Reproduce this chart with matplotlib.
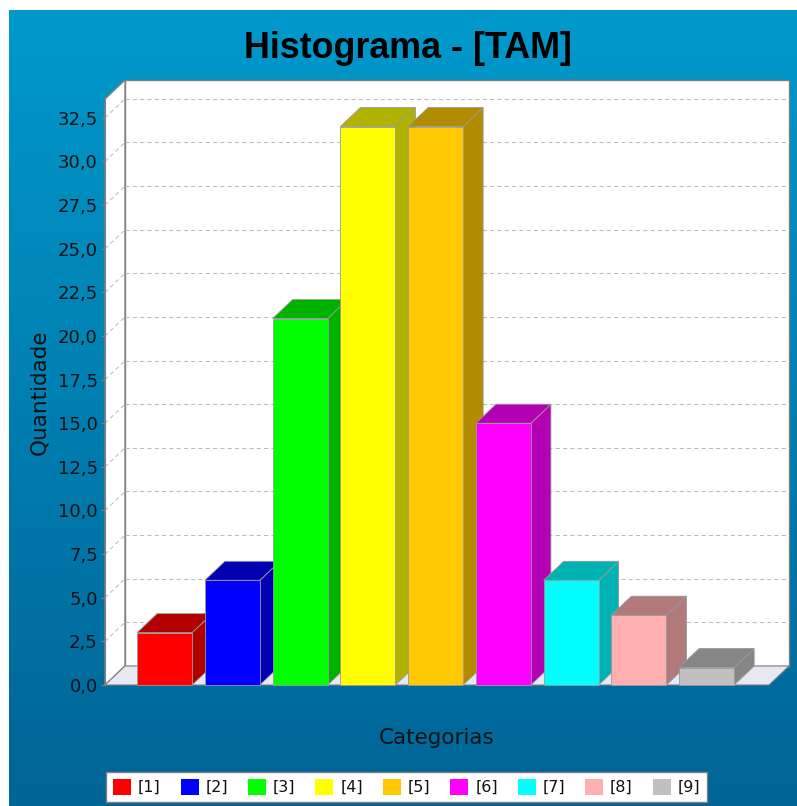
import numpy as np
import matplotlib
matplotlib.use("Agg")
import matplotlib.pyplot as plt
from matplotlib.patches import Polygon, Patch
from matplotlib.ticker import FuncFormatter, MultipleLocator

# dados do histograma
categorias = ["[1]", "[2]", "[3]", "[4]", "[5]", "[6]", "[7]", "[8]", "[9]"]
quantidade = [3, 6, 21, 32, 32, 15, 6, 4, 1]
cores = ["#FF0000", "#0000FF", "#00FF00", "#FFFF00", "#FFC800",
         "#FF00FF", "#00FFFF", "#FFAFAF", "#C0C0C0"]
cores_escuras = ["#B20000", "#0000B2", "#00B200", "#B2B200", "#B28C00",
                 "#B200B2", "#00B2B2", "#B27A7A", "#868686"]

W, H = 797, 806
fig = plt.figure(figsize=(W / 100, H / 100), dpi=100)

# fundo em degrade
bg = fig.add_axes([9 / W, 0, 1 - 9 / W, 1 - 10 / H], zorder=-1)
t = np.linspace(0, 1, 256)[:, None, None]
topo = np.array([0, 153, 204]) / 255
base = np.array([0, 100, 150]) / 255
bg.imshow(topo + (base - topo) * t, aspect="auto", extent=[0, 1, 0, 1])
bg.axis("off")

# eixo principal (plano da frente)
ax = fig.add_axes([105 / W, (H - 685) / H, 664 / W, 586 / H])
ax.patch.set_visible(False)
xmin, xmax = -0.88, 8.92
ymax = 33.58
ax.set_xlim(xmin, xmax)
ax.set_ylim(0, ymax)

# profundidade 3D em unidades de dados
ddx = 20 / (664 / (xmax - xmin))
ddy = 19 / (586 / ymax)

cinza = "#808080"
for s in ["top", "right", "bottom"]:
    ax.spines[s].set_visible(False)
ax.spines["left"].set_color(cinza)
ax.spines["left"].set_linewidth(0.8)

ax.yaxis.set_major_locator(MultipleLocator(2.5))
ax.yaxis.set_major_formatter(FuncFormatter(lambda v, p: f"{v:.1f}".replace(".", ",")))
ax.tick_params(axis="y", direction="out", length=3, width=0.8, color=cinza,
               pad=2.2, labelsize=13, labelcolor="#111111")
ax.set_xticks([])

ax.set_ylabel("Quantidade", fontsize=15.5, labelpad=6, color="#111111")
ax.set_xlabel("Categorias", fontsize=15.5, labelpad=31, color="#111111")

# paredes
parede_fundo = Polygon([(xmin + ddx, ddy), (xmax + ddx, ddy), (xmax + ddx, ymax + ddy),
                        (xmin + ddx, ymax + ddy)], closed=True, facecolor="white",
                       edgecolor=cinza, lw=1.0, clip_on=False, zorder=0.5)
parede_esq = Polygon([(xmin, 0), (xmin + ddx, ddy), (xmin + ddx, ymax + ddy), (xmin, ymax)],
                     closed=True, facecolor="white", edgecolor=cinza, lw=1.0,
                     clip_on=False, zorder=0.6)
piso = Polygon([(xmin, 0), (xmin + ddx, ddy), (xmax + ddx, ddy), (xmax, 0)],
               closed=True, facecolor="#E8E8F5", edgecolor=cinza, lw=0.8,
               clip_on=False, zorder=0.7)
for p in [parede_fundo, parede_esq, piso]:
    ax.add_patch(p)

# linhas de grade
for v in np.arange(2.5, ymax, 2.5):
    ax.plot([xmin + ddx, xmax + ddx], [v + ddy, v + ddy], color="#BBBBBB", lw=0.75,
            dashes=(4, 3), clip_on=False, zorder=0.8)
    ax.plot([xmin, xmin + ddx], [v, v + ddy], color="#BBBBBB", lw=0.75,
            dashes=(4, 3), clip_on=False, zorder=0.8)

# barras 3D
x = np.arange(len(quantidade))
larg = 0.812
for i, v in enumerate(quantidade):
    e, d = x[i] - larg / 2, x[i] + larg / 2
    z = 2 + i * 0.1
    lado = Polygon([(d, 0), (d + ddx, ddy), (d + ddx, v + ddy), (d, v)], closed=True,
                   facecolor=cores_escuras[i], edgecolor="#999999", lw=0.6,
                   clip_on=False, zorder=z)
    tampa = Polygon([(e, v), (e + ddx, v + ddy), (d + ddx, v + ddy), (d, v)], closed=True,
                    facecolor=cores_escuras[i], edgecolor="#999999", lw=0.6,
                    clip_on=False, zorder=z + 0.01)
    ax.add_patch(lado)
    ax.add_patch(tampa)
    ax.bar(x[i], v, width=larg, color=cores[i], edgecolor="#999999", lw=0.6,
           clip_on=False, zorder=z + 0.02)

fig.text(408 / W, 1 - 58 / H, "Histograma - [TAM]", ha="center", va="baseline",
         fontsize=25.8, fontweight="bold", family="Liberation Sans", color="black")

handles = [Patch(facecolor=c, edgecolor="none") for c in cores]
leg = fig.legend(handles, categorias, ncol=9, loc="upper left",
                 bbox_to_anchor=(106 / W, 1 - 772 / H), borderaxespad=0,
                 fontsize=11.5, handlelength=1.125, handleheight=1.125,
                 handletextpad=0.44, columnspacing=1.24, borderpad=0.44,
                 frameon=True, fancybox=False, framealpha=1, edgecolor=cinza)
leg.get_frame().set_linewidth(1)
for txt in leg.get_texts():
    txt.set_color("#111111")

fig.savefig("out.png", dpi=100)
